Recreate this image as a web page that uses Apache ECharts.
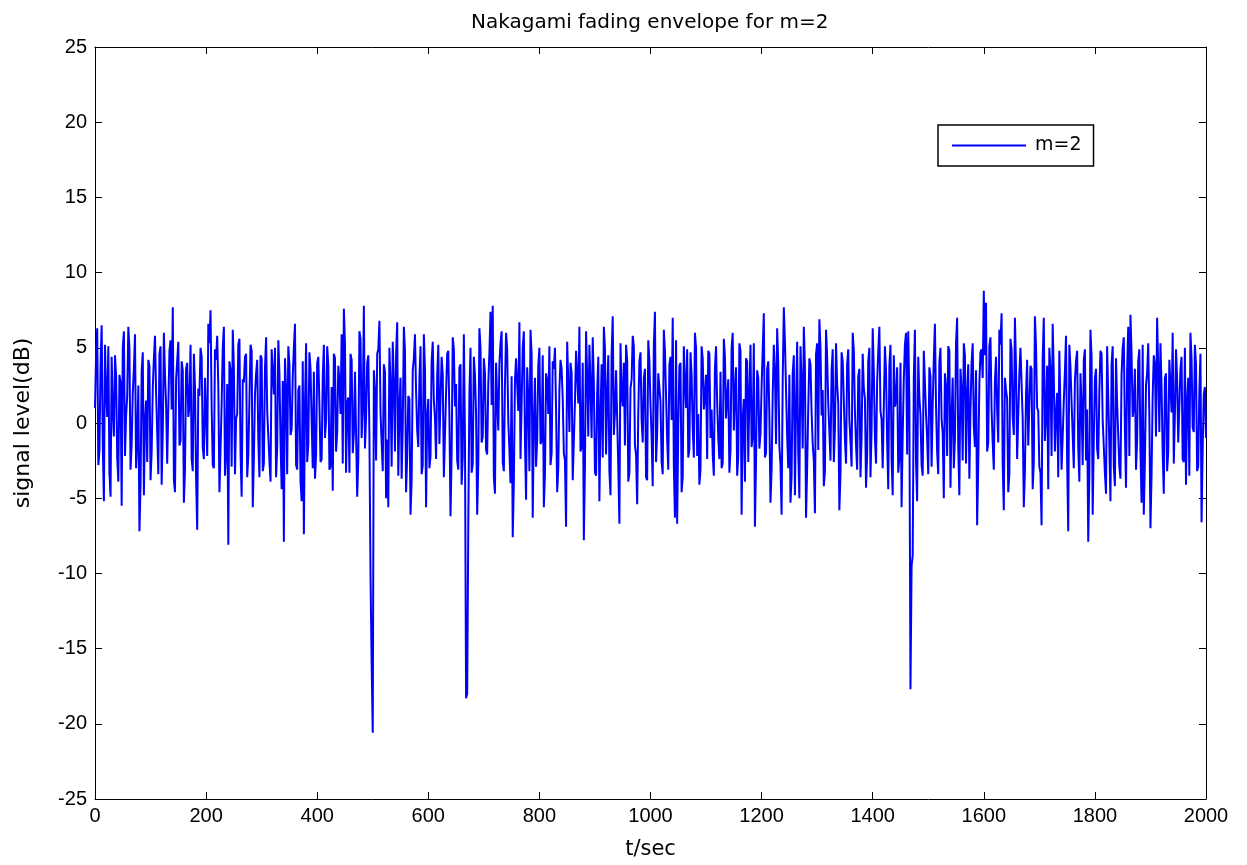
<!DOCTYPE html>
<html>
<head>
<meta charset="utf-8">
<title>Nakagami fading envelope</title>
<script src="https://cdn.jsdelivr.net/npm/echarts@6/dist/echarts.min.js"></script>
<style>
  html, body { margin: 0; padding: 0; background: #fff; }
  #chart { width: 1247px; height: 865px; }
</style>
</head>
<body>
<div id="chart"></div>
<script>
// samples are 2 s apart: levelA holds t = 0, 4, 8, ... and levelB holds t = 2, 6, 10, ...
const step = 2;

// signal level in dB at t = 0, 4, 8 ... 2000 (one row per 100 s)
const levelA = [
  1.0, 6.3, -1.8, 6.5, -5.2, 2.1, 5.1, -4.9, 0.8, 4.5, -2.3, 3.2, -5.5, 6.1, 0.5, 6.4, -3.1, 2.0, 5.9, -1.2, -7.2, 3.4, -4.8, 1.5, 4.2,
  -3.8, 2.3, 5.8, -0.7, 4.6, -4.1, 6.0, 1.2, -2.7, 5.5, 7.7, -4.6, 2.9, -1.5, 4.1, -5.3, 3.6, 0.4, 5.2, -3.2, 2.4, -7.1, 1.8, 4.4, -2.4,
  3.0, 6.6, 7.5, -2.8, 4.9, 5.8, -4.6, 1.3, 6.4, -1.9, -8.1, 3.5, 6.2, -3.4, 0.6, 5.6, -4.9, 2.7, 4.6, -2.1, 5.2, -5.6, 1.9, 4.2, -3.6,
  4.3, -2.7, 5.7, 0.9, -3.9, 4.8, 5.0, -1.6, 3.3, -4.4, -7.9, 2.2, 5.1, -0.8, 3.1, 6.6, -3.1, 2.5, -5.2, -7.4, 5.3, -1.4, 3.6, -3.0, -3.7,
  4.0, 1.2, -2.4, 5.2, 0.2, 3.8, -2.9, -4.5, 4.3, -0.6, 2.8, 5.9, 7.6, -3.3, 1.7, 4.6, -2.0, 3.4, -4.9, 6.1, -1.0, 7.8, 0.4, 4.5, -10.2,
  -20.6, 2.1, 4.6, 6.8, -1.3, 3.9, -5.0, -5.6, 2.6, 5.4, -1.9, 6.7, 0.9, -3.7, 6.4, -4.6, 1.8, -6.1, 3.5, 5.9, -0.5, 2.9, -3.4, 5.9, -5.6,
  1.6, -2.2, 5.4, 0.3, 3.1, -1.4, 4.4, -3.6, 2.0, 4.8, -6.2, 5.7, 1.1, -2.5, 3.7, -4.1, 5.9, -18.3, -6.8, 5.0, -2.7, 3.2, -6.1, 6.3, -1.3,
  4.3, -1.8, 2.6, 7.4, 7.8, -4.7, 1.5, 3.9, 6.1, -3.2, 6.0, 0.1, -4.0, -7.6, 2.8, 4.2, 6.7, -2.4, 6.1, -5.1, 1.7, 6.2, -6.3, 3.0, -1.1,
  5.0, -1.2, -5.6, 3.3, 0.6, -2.8, 4.1, 5.0, -4.6, 2.2, 3.6, -2.0, -6.9, 2.7, 4.0, -3.8, 1.4, 3.2, 6.4, -1.6, -7.8, 6.1, -0.9, 2.5, 5.7,
  -3.3, 2.0, -5.2, 3.9, 6.4, -2.1, 4.5, -4.8, 7.1, 0.7, 3.4, -6.7, 1.9, 4.0, 5.2, -3.9, 2.3, 5.8, -1.5, -5.4, 4.1, 0.2, 3.0, -3.6, 5.5,
  1.2, -4.2, 7.4, -0.7, 3.3, -2.6, 6.2, 1.8, -3.1, 4.4, 7.0, -6.3, -6.7, 3.8, -4.6, 5.1, 1.0, -2.3, 4.7, -0.4, 6.0, -2.2, -4.1, 5.1, 0.9,
  3.2, 4.8, -1.0, -2.1, 3.7, 1.4, -2.4, -3.0, 5.6, 0.3, 2.9, -1.8, 6.0, 2.1, -3.5, 5.3, -6.1, 1.6, 4.3, -2.6, 5.2, -0.8, -6.9, 3.5, -1.7,
  2.4, 7.3, -2.0, 4.1, -5.3, 1.9, 3.4, 6.3, -1.5, -6.1, 7.7, 2.2, -3.0, -5.3, 3.3, -4.8, 5.4, -5.0, 2.7, 6.4, -6.3, 1.0, 3.9, -1.4, -6.0,
  5.3, 6.9, 0.5, -4.2, 6.2, 1.3, -2.5, 4.9, -0.4, 2.6, -5.8, 4.7, 1.5, -2.7, 4.9, -1.2, 6.0, 0.8, -3.1, 3.6, -0.9, 2.3, -4.3, 4.1, -3.6,
  6.3, -1.0, 2.8, 6.4, 0.2, -2.9, 3.4, -4.4, 5.2, -4.8, 1.1, 3.7, -2.3, -5.6, 2.9, 6.0, 6.1, -17.7, -8.8, 6.2, -5.2, 1.7, -2.8, 4.8, 0.6,
  -3.4, 3.1, 1.2, 6.6, -1.9, 4.0, 0.3, -5.0, 2.4, 5.1, -4.3, 3.0, -1.1, 7.0, -4.8, 2.2, 5.3, -2.7, 3.9, 0.8, 5.3, -1.6, -6.8, 2.6, 4.9,
  8.8, 8.0, -1.3, 5.7, -1.3, 2.7, 0.9, 6.2, 7.3, -5.8, 2.2, -4.6, 5.6, 0.4, 7.0, -2.4, 3.3, 5.1, -5.6, 1.9, -1.5, 3.8, -4.4, 7.1, 1.0,
  -2.9, -6.8, 7.0, 0.6, -4.4, 3.5, 6.6, -1.9, 2.0, 4.8, -3.1, 1.4, 5.8, -7.2, 3.7, -0.8, 2.8, 4.8, -3.9, 1.2, 4.2, -2.5, -7.9, 6.2, -6.1,
  3.0, -1.7, 2.1, 4.6, 0.1, -4.7, 5.2, -5.2, 5.1, -4.2, 1.3, -2.9, 3.2, 5.7, -4.3, 6.4, 7.2, 0.4, 3.6, -1.2, 4.9, -5.3, -6.1, 2.5, 5.3,
  -7.0, 1.8, 3.9, 7.0, -0.6, 2.4, -4.7, 3.3, -1.9, 4.1, 6.0, 0.5, 2.9, -1.2, 4.4, -2.6, -4.1, 3.0, 6.0, -0.3, 5.2, -3.2, 2.0, -6.6, 1.9,
  -1.0
];

// signal level in dB at t = 2, 6, 10 ... 1998 (one row per 100 s)
const levelB = [
  4.6, -2.8, 3.9, -1.5, 5.2, 0.4, -3.3, 4.4, -0.9, 3.1, -3.9, 2.7, 5.0, -2.2, 1.8, 4.9, -1.4, 3.6, -3.0, 2.5, -4.1, 4.7, 0.2, -2.6, 3.8,
  -1.9, 4.3, 2.0, -3.4, 5.1, -0.6, 3.2, -2.7, 4.8, 0.9, -3.8, 2.9, 5.4, -1.2, 3.5, -3.1, 4.0, 1.1, -2.4, 4.6, -3.7, 2.3, 5.0, -1.6, 3.0,
  -2.2, 5.3, 1.0, -3.0, 4.2, 2.4, -1.8, 5.0, -3.5, 2.6, 4.1, -2.9, 3.7, 0.3, 5.2, -2.0, 2.9, 4.4, -3.6, 1.5, 4.8, -2.3, 3.3, -1.1, 4.5,
  -3.2, 3.6, 0.8, -2.5, 4.9, 1.9, -3.6, 5.5, -1.3, 2.8, 4.3, -3.4, 3.9, -0.4, 5.0, -2.8, 2.2, -3.9, 4.1, 1.2, -2.6, 4.7, 0.1, 3.4, -2.1,
  4.4, -2.6, 3.1, -1.0, 5.1, -3.1, 2.4, 4.6, -1.9, 3.8, 0.6, -2.7, 5.3, 1.4, -3.3, 4.2, -0.7, 3.5, -2.4, 5.6, 1.0, -1.7, 4.0, -0.8, -16.0,
  3.5, -2.5, 4.9, 0.7, -3.2, 3.4, -1.1, 5.0, -2.9, 2.7, 4.5, -3.5, 3.0, -0.2, 4.8, -2.2, 1.6, -3.8, 4.3, 2.1, -1.6, 5.1, -2.8, 3.6, 0.5,
  -3.0, 4.1, 1.5, -2.4, 5.2, -1.3, 3.2, -3.7, 4.6, 0.4, -2.0, 4.9, 2.6, -3.1, 3.9, -2.2, -1.0, -18.0, 2.0, -3.3, 4.4, 0.6, -2.7, 5.0, -0.9,
  3.3, -2.1, 4.7, 1.2, -3.6, 4.0, -0.5, 5.3, -2.6, 2.5, 4.9, -1.8, 3.1, -3.9, 4.3, 0.8, -2.4, 5.0, -1.2, 3.7, -3.2, 4.6, 0.0, -2.9, 3.8,
  -1.4, 4.5, -3.4, 2.8, 5.1, -2.0, 3.6, 0.9, -3.0, 4.2, 1.6, -2.5, 5.4, -0.6, 3.3, -3.7, 4.8, 1.3, -1.9, 4.0, -2.8, 3.1, 5.2, -1.0, 2.6,
  -3.5, 4.4, 0.5, -2.3, 5.0, 1.8, -3.2, 4.6, -0.8, 3.5, -2.9, 5.3, 1.1, -1.5, 4.2, -3.3, 2.9, 5.1, -2.1, 0.7, 4.7, -1.3, 3.6, -3.8, 4.1,
  -0.9, 5.2, -2.6, 3.3, 1.4, -3.4, 4.8, -1.1, 3.9, 0.2, -2.8, 5.5, -0.3, 4.0, -3.6, 2.6, 4.9, -1.7, 3.2, -2.3, 5.0, 0.6, -3.1, 4.3, 1.8,
  -2.4, 4.6, 0.9, -3.5, 5.1, -1.0, 3.4, -2.7, 4.4, 1.7, -3.3, 5.0, -0.5, 3.7, -2.2, 4.8, 0.3, -3.9, 4.1, 2.0, -1.6, 5.3, -2.5, 3.0, -0.7,
  4.9, -2.3, 3.6, 0.4, -3.1, 5.2, -1.4, 4.0, -2.8, 2.9, 5.4, -0.9, 3.2, -3.5, 4.5, 1.0, -2.0, 5.1, -1.7, 3.8, -3.0, 4.3, 0.7, -2.5, 4.6,
  -1.8, 5.0, 2.2, -3.2, 4.4, -0.6, 3.5, -2.6, 5.3, 1.3, -3.4, 4.1, -1.1, 3.9, 0.2, -2.9, 4.8, -1.5, 3.1, -3.6, 4.6, 1.6, -2.1, 5.0, -0.4,
  3.4, -2.7, 4.7, 0.8, -3.0, 5.1, -1.2, 3.8, -2.4, 4.5, 1.5, -3.3, 4.0, -0.8, 5.2, -2.1, 1.5, -9.5, 3.0, -2.6, 4.4, 0.5, -3.5, 4.9, -1.0,
  3.7, -2.9, 4.2, 1.1, -3.4, 5.0, -0.7, 3.3, -2.2, 4.8, 0.4, -3.0, 5.3, -1.6, 3.6, -2.5, 4.5, 1.9, -3.7, 4.0, -0.2, 3.5, -2.8, 4.7, 3.0,
  4.5, -1.9, 5.1, 0.9, -3.1, 4.4, -1.3, 5.2, -2.7, 3.0, 1.6, -3.4, 4.9, -0.8, 3.7, -2.3, 5.0, 0.3, -3.2, 4.2, -1.4, 3.6, -2.6, 5.1, 0.8,
  -3.3, 4.3, -1.2, 3.8, 5.0, -2.2, 3.1, 0.6, -3.6, 4.7, -0.9, 3.4, -2.5, 5.2, 1.4, -3.0, 4.1, -1.6, 3.3, -2.8, 4.9, 0.9, -3.5, 4.4, -1.1,
  3.6, -2.4, 4.8, 0.2, -3.3, 5.1, -1.5, 3.9, -2.9, 4.3, 1.2, -3.7, 5.0, -0.4, 3.5, -2.2, 4.6, 1.0, -3.1, 4.1, -1.8, 5.2, -2.6, 3.3, 0.5,
  -3.4, 4.5, -0.9, 3.7, 5.3, -2.0, 3.0, -3.2, 4.2, 0.7, -2.7, 4.9, -1.3, 3.6, -2.4, 5.0, 1.5, -3.5, 4.3, -0.6, 3.9, -2.9, 4.6, -1.8, 2.4
];

const xTicks = { min: 0, max: 2000, interval: 200 };
const yTicks = { min: -25, max: 25, interval: 5 };

// merge the two sample sets in time order
const points = [];
levelA.forEach((v, i) => {
  points.push([2 * i * step, v]);
  if (i < levelB.length) points.push([(2 * i + 1) * step, levelB[i]]);
});

const tickFont = 'Liberation Sans, Arial, sans-serif';
const textFont = 'DejaVu Sans, sans-serif';
const axisCommon = {
  axisLine: { show: true, onZero: false, lineStyle: { color: '#000', width: 1 } },
  axisTick: { show: true, inside: true, length: 7, lineStyle: { color: '#000' } },
  splitLine: { show: false },
};

let myChart = echarts.init(document.getElementById('chart'));
myChart.setOption({
  animation: false,
  backgroundColor: '#fff',
  title: {
    text: 'Nakagami fading envelope for m=2',
    left: 466,
    top: 8,
    textStyle: { fontFamily: textFont, fontSize: 20, fontWeight: 'normal', color: '#000' }
  },
  legend: {
    left: 938,
    top: 125,
    data: ['m=2'],
    icon: 'rect',
    itemWidth: 74,
    itemHeight: 2,
    itemGap: 0,
    padding: [11, 12, 11, 14],
    borderColor: '#000',
    borderWidth: 1.5,
    backgroundColor: '#fff',
    textStyle: { fontFamily: textFont, fontSize: 19, color: '#000', padding: [0, 0, 0, 4] }
  },
  grid: { left: 95, right: 41, top: 47, bottom: 65 },
  xAxis: [
    Object.assign({
      type: 'value',
      min: xTicks.min, max: xTicks.max, interval: xTicks.interval,
      position: 'bottom',
      name: 't/sec',
      nameLocation: 'middle',
      nameGap: 40,
      nameTextStyle: { fontFamily: textFont, fontSize: 21, color: '#000' },
      axisLabel: { fontFamily: tickFont, fontSize: 20, color: '#000', margin: 7, formatter: v => String(v) }
    }, axisCommon),
    Object.assign({
      type: 'value',
      min: xTicks.min, max: xTicks.max, interval: xTicks.interval,
      position: 'top',
      axisLabel: { show: false }
    }, axisCommon)
  ],
  yAxis: [
    Object.assign({
      type: 'value',
      min: yTicks.min, max: yTicks.max, interval: yTicks.interval,
      position: 'left',
      name: 'signal level(dB)',
      nameLocation: 'middle',
      nameGap: 61,
      nameTextStyle: { fontFamily: textFont, fontSize: 22, color: '#000' },
      axisLabel: { fontFamily: tickFont, fontSize: 20, color: '#000', margin: 8 }
    }, axisCommon),
    Object.assign({
      type: 'value',
      min: yTicks.min, max: yTicks.max, interval: yTicks.interval,
      position: 'right',
      axisLabel: { show: false }
    }, axisCommon)
  ],
  series: [
    {
      name: 'm=2',
      type: 'line',
      xAxisIndex: 0,
      yAxisIndex: 0,
      data: points,
      symbol: 'none',
      sampling: null,
      lineStyle: { color: '#0000ff', width: 2 },
      itemStyle: { color: '#0000ff' }
    }
  ]
});
</script>
</body>
</html>
